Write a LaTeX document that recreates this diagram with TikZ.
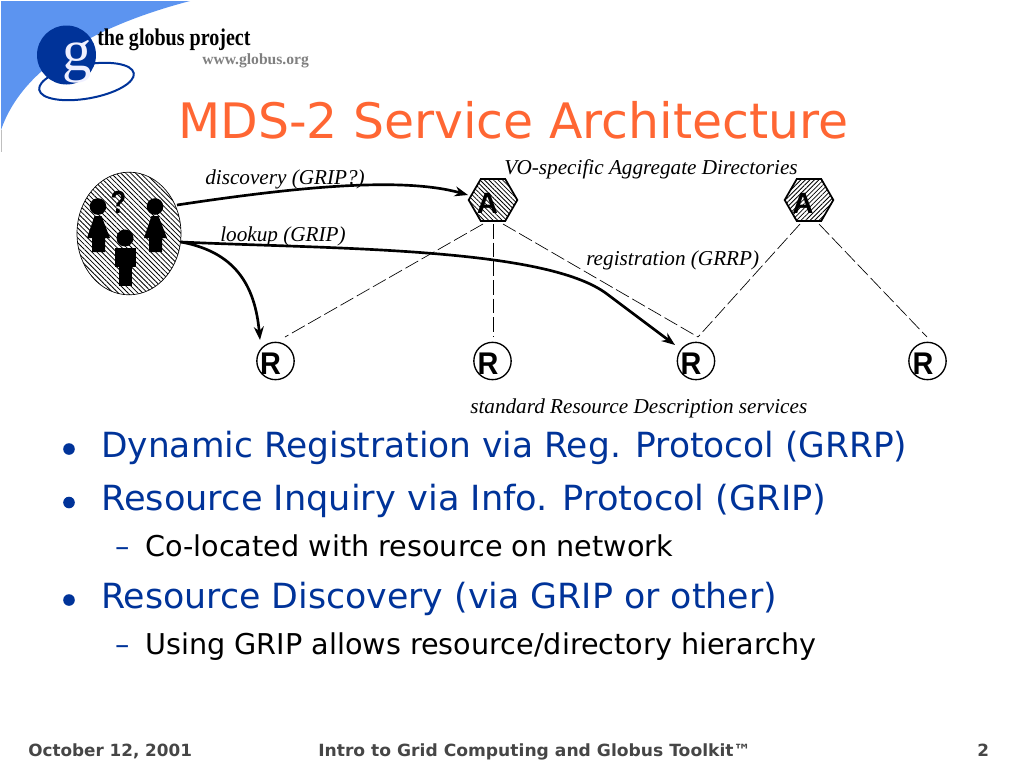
\documentclass[tikz,border=0pt]{standalone}
\usepackage{graphicx}
\usepackage{fontspec}
\usetikzlibrary{shapes.geometric,arrows.meta,patterns.meta,calc}
\setmainfont{DejaVu Sans}
\newfontfamily\timesf{Liberation Serif}
\newfontfamily\logof{Liberation Serif}
\newfontfamily\arialf{Liberation Sans}
\definecolor{titleor}{RGB}{255,102,51}
\definecolor{bodyblue}{RGB}{0,51,153}
\definecolor{swoosh}{RGB}{92,148,240}
\definecolor{footgray}{RGB}{70,70,70}
\newcommand{\hx}[2]{\scalebox{#1}[1]{#2}}
\tikzset{
  x=0.75pt,y=-0.75pt,
  txt/.style={inner sep=0pt,anchor=base west},
  lab/.style={txt,font=\timesf\itshape\fontsize{15.9}{18}\selectfont},
  hex/.style={draw,line width=1.3pt,regular polygon,regular polygon sides=6,shape border rotate=0,minimum size=36.5pt,inner sep=0pt},
  res/.style={draw,circle,line width=1pt,minimum size=28pt,inner sep=0pt},
  letter/.style={inner sep=0pt,font=\arialf\bfseries\fontsize{22}{22}\selectfont},
  rletter/.style={inner sep=0pt,font=\arialf\bfseries\fontsize{23.5}{23.5}\selectfont},
  reg/.style={dash pattern=on 11pt off 3pt,line width=0.5pt},
  call/.style={line width=2pt,-{Stealth[length=10pt,width=7.5pt]}},
  b1/.style={txt,text=bodyblue,font=\fontsize{26}{28}\selectfont},
  b2/.style={txt,text=bodyblue,font=\fontsize{21.5}{24}\selectfont},
  b2t/.style={txt,text=black,font=\fontsize{21.5}{24}\selectfont},
  foot/.style={txt,text=footgray,font=\bfseries\fontsize{12.6}{14}\selectfont},
  dot/.style={circle,fill=bodyblue,inner sep=0pt,minimum size=8.7pt}
}
\begin{document}
\begin{tikzpicture}
\useasboundingbox (0,0) rectangle (1024,768);
% logo
\fill[swoosh] (1,1) -- (190,1) .. controls (110,22) and (25,60) .. (1,130) -- cycle;
\draw[gray!50,line width=0.4pt] (1,130) -- (1,152);
\draw[bodyblue,line width=1.5pt,rotate around={10:(86.5,81.5)}] (86.5,81.5) ellipse (48 and 17);
\fill[bodyblue] (66.5,55) circle (29.5);
\node[txt,text=blue!6!white,font=\logof\fontsize{44}{44}\selectfont] (logog) at (62,70) {g};
\node[txt,font=\logof\bfseries\fontsize{18}{20}\selectfont] (logot) at (97,45) {\hx{0.835}{the globus project}};
\node[txt,text=gray,font=\logof\bfseries\fontsize{11.7}{14}\selectfont] (logow) at (202,64) {www.globus.org};
% title
\node[txt,text=titleor,font=\fontsize{36.65}{40}\selectfont] (title) at (178,138) {MDS-2 Service Architecture};
% people group
\node[draw,ellipse,line width=0.5pt,minimum width=78pt,minimum height=92pt,inner sep=0pt,pattern={Lines[angle=-45,distance=2.6pt,line width=0.6pt]}] (grp) at (129,233.5) {};
\fill (98,206.5) circle (8.3);
\fill (94.5,216) -- (101.5,216) -- (110,238) -- (105,238) -- (105,252) -- (92,252) -- (92,238) -- (87,238) -- cycle;
\fill (155,206.5) circle (8.3);
\fill (151.5,216) -- (158.5,216) -- (167,238) -- (162,238) -- (162,252) -- (149,252) -- (149,238) -- (144,238) -- cycle;
\fill (125,238) circle (8.5);
\fill (115,248) rectangle (136,267);
\fill (119,267) rectangle (132,286);
\node[inner sep=0pt,font=\arialf\bfseries\fontsize{24}{24}\selectfont] (q) at (118.5,202.5) {\hx{0.8}{?}};
% directories and resources
\node[hex,pattern={Lines[angle=-45,distance=2.4pt,line width=0.6pt]}] (a1) at (493,200) {};
\node[hex,pattern={Lines[angle=45,distance=2.4pt,line width=0.6pt]}] (a2) at (809,200) {};
\node[letter] (a1t) at (487.5,203) {A};
\node[letter] (a2t) at (803,203) {A};
\node[res] (r1) at (275.5,361) {};
\node[res] (r2) at (492.5,361) {};
\node[res] (r3) at (696,361) {};
\node[res] (r4) at (927.5,361) {};
\node[rletter] (r1t) at (270.5,363.5) {\hx{0.92}{R}};
\node[rletter] (r2t) at (488,363.5) {\hx{0.92}{R}};
\node[rletter] (r3t) at (691,363.5) {\hx{0.92}{R}};
\node[rletter] (r4t) at (923,363.5) {\hx{0.92}{R}};
% connector ends
\coordinate (a1l) at (483,224);
\coordinate (a1m) at (493,224);
\coordinate (a1r) at (503,224);
\coordinate (a2l) at (800,224);
\coordinate (a2r) at (819,224);
\coordinate (r1e) at (285,337);
\coordinate (r2e) at (493,337);
\coordinate (r3e) at (698,337);
\coordinate (r4e) at (927,337);
\coordinate (gd) at (177,205);
\coordinate (gl) at (181,242);
\coordinate (ad) at (468,195);
\coordinate (rl) at (260,340);
\coordinate (rm) at (607,294);
\coordinate (rr) at (675,345);
\draw[reg] (a1l) -- (r1e);
\draw[reg] (a1m) -- (r2e);
\draw[reg] (a1r) -- (r3e);
\draw[reg] (a2l) -- (r3e);
\draw[reg] (a2r) -- (r4e);
\draw[call] (gd) .. controls (290,188) and (400,176) .. (ad);
\draw[call] (gl) .. controls (235,252) and (255,285) .. (rl);
\draw[call] (gl) .. controls (330,249) and (545,247) .. (rm) -- (rr);
% labels
\node[lab] (l1) at (205,184.5) {discovery (GRIP?)};
\node[lab] (l2) at (220,241) {lookup (GRIP)};
\node[lab] (l3) at (504,174) {VO-specific Aggregate Directories};
\node[lab] (l4) at (586,265) {registration (GRRP)};
\node[lab] (l5) at (470,413.5) {standard Resource Description services};
% bullets
\node[dot] (d1) at (69,449) {};
\node[dot] (d2) at (69,502.5) {};
\node[dot] (d3) at (69,600) {};
\node[b1] (t1) at (101,457.5) {\hx{0.993}{Dynamic Registration via Reg. Protocol (GRRP)}};
\node[b1] (t2) at (101,510) {\hx{1.015}{Resource Inquiry via Info. Protocol (GRIP)}};
\node[b2] (m1) at (115,556) {–};
\node[b2t] (t3) at (145,556) {Co-located with resource on network};
\node[b1] (t4) at (101,608) {\hx{1.003}{Resource Discovery (via GRIP or other)}};
\node[b2] (m2) at (115,654) {–};
\node[b2t] (t5) at (145,654) {Using GRIP allows resource/directory hierarchy};
% footer
\node[foot] (f1) at (28,756) {October 12, 2001};
\node[foot] (f2) at (318,756) {\hx{1.02}{Intro to Grid Computing and Globus Toolkit™}};
\node[foot] (f3) at (977,756) {2};
\end{tikzpicture}
\end{document}
